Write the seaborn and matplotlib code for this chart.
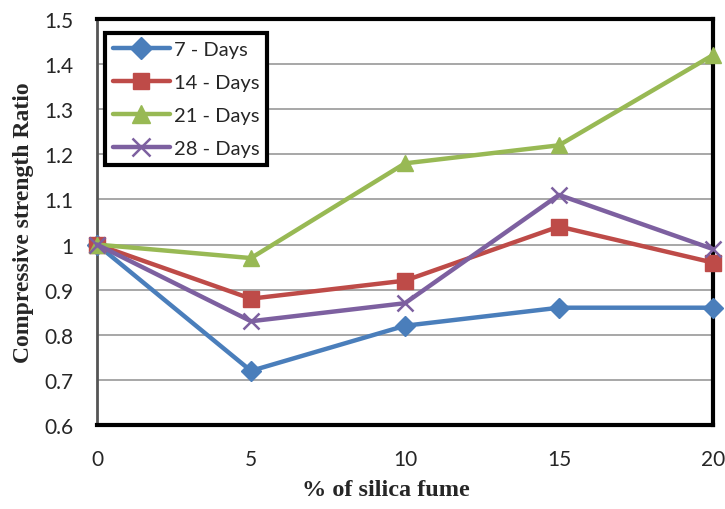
import matplotlib
matplotlib.use("Agg")
import matplotlib.pyplot as plt
import seaborn as sns
import pandas as pd

silica = [0, 5, 10, 15, 20]
days7 = [1.00, 0.72, 0.82, 0.86, 0.86]
days14 = [1.00, 0.88, 0.92, 1.04, 0.96]
days21 = [1.00, 0.97, 1.18, 1.22, 1.42]
days28 = [1.00, 0.83, 0.87, 1.11, 0.99]
series_names = ["7 - Days", "14 - Days", "21 - Days", "28 - Days"]
yticks = [0.6, 0.7, 0.8, 0.9, 1.0, 1.1, 1.2, 1.3, 1.4, 1.5]
ytick_labels = ["0.6", "0.7", "0.8", "0.9", "1", "1.1", "1.2", "1.3", "1.4", "1.5"]
xticks = [0, 5, 10, 15, 20]

sns.set_style("white")
plt.rcParams["font.family"] = ["Lato", "DejaVu Sans"]

colors = ["#4A7EBB", "#BE4B48", "#98B954", "#7D60A0"]
markers = ["D", "s", "^", "x"]
msizes = [10, 11, 12, 12]

fig = plt.figure(figsize=(7.25, 5.1), dpi=100)
ax = fig.add_axes([0.1338, 0.1647, 0.8496, 0.7961])

for name, vals, c, m, ms in zip(series_names, [days7, days14, days21, days28],
                                colors, markers, msizes):
    d = pd.DataFrame({"silica": silica, "ratio": vals})
    sns.lineplot(data=d, x="silica", y="ratio", color=c, marker=m,
                 markersize=ms, markeredgecolor=c,
                 markeredgewidth=(1.8 if m == "x" else 1.0),
                 linewidth=3.2, label=name, ax=ax, clip_on=False, zorder=3)

ax.set_xlim(0, 20)
ax.set_ylim(0.6, 1.5)
ax.set_xticks(xticks)
ax.set_xticklabels([str(t) for t in xticks], fontsize=15)
ax.set_yticks(yticks)
ax.set_yticklabels(ytick_labels, fontsize=15)
ax.tick_params(axis="y", length=0, pad=17)
ax.tick_params(axis="x", length=0, pad=17)
ax.yaxis.grid(True, color="#a0a0a0", linewidth=1.3)
ax.xaxis.grid(False)

for side in ["top", "right", "bottom"]:
    ax.spines[side].set_color("black")
    ax.spines[side].set_linewidth(3)
ax.spines["left"].set_color("#555555")
ax.spines["left"].set_linewidth(2)

ax.set_xlabel("% of silica fume", fontsize=17.5, fontweight="bold",
              family="Liberation Serif")
ax.xaxis.set_label_coords(0.469, -0.133)
ax.set_ylabel("Compressive strength Ratio", fontsize=17, fontweight="bold",
              family="Liberation Serif")
ax.yaxis.set_label_coords(-0.103, 0.5)

leg = ax.legend(loc="upper left", bbox_to_anchor=(0.0, 0.985), fontsize=14.5,
                frameon=True, fancybox=False, handlelength=2.8,
                borderpad=0.4, labelspacing=0.78, handletextpad=0.2,
                borderaxespad=0.4, markerscale=1.1)
leg.get_frame().set_edgecolor("black")
leg.get_frame().set_linewidth(3)
leg.get_frame().set_facecolor("white")
leg.get_frame().set_alpha(1)

fig.savefig("out.png", dpi=100)
